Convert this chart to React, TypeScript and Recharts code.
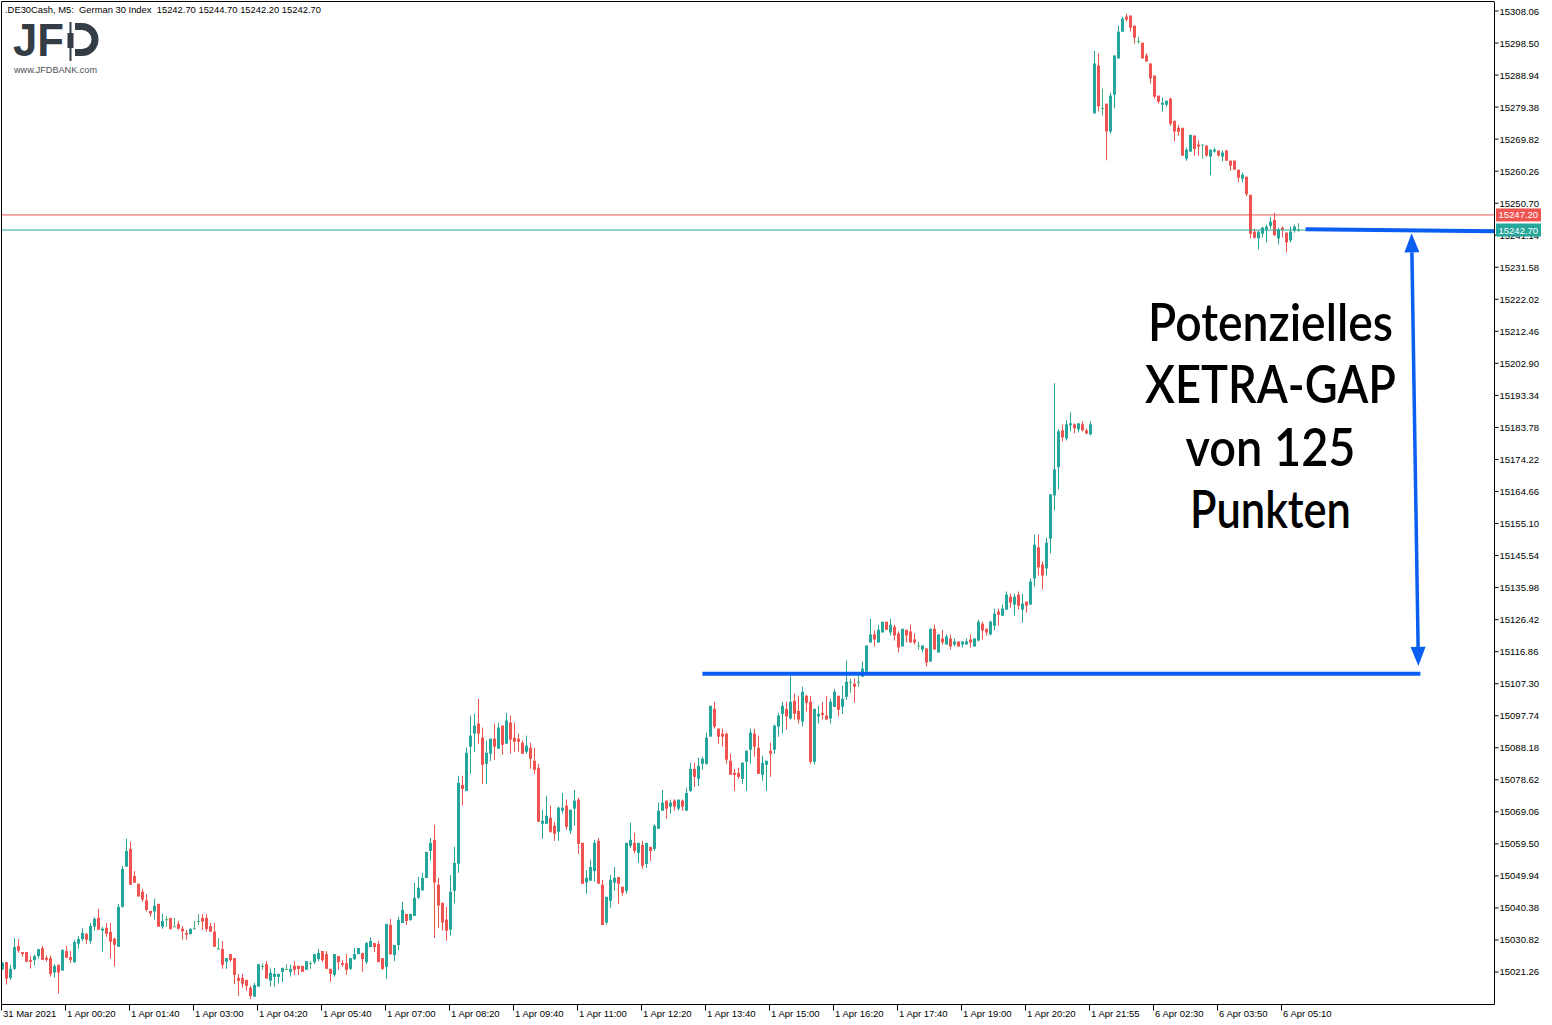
import React from 'react';
import { ComposedChart, Bar, XAxis, YAxis, ReferenceLine } from 'recharts';

// ---------- DATA (DE30Cash, M5) ----------
const OPEN = [
  15022.1, 15024.2, 15019.5, 15022.2, 15029.0, 15027.2, 15027.2, 15024.8, 15024.8, 15026.0,
  15028.4, 15025.5, 15025.4, 15021.1, 15023.4, 15021.7, 15027.5, 15025.7, 15024.2, 15029.7,
  15031.1, 15032.6, 15030.5, 15034.8, 15037.4, 15033.6, 15034.4, 15033.2, 15031.2, 15028.8,
  15040.7, 15052.7, 15058.0, 15049.9, 15047.6, 15045.2, 15042.6, 15039.5, 15039.3, 15041.6,
  15034.8, 15037.0, 15037.4, 15034.9, 15035.6, 15034.2, 15032.9, 15032.6, 15034.3, 15036.5,
  15037.4, 15037.4, 15034.9, 15033.3, 15028.3, 15028.1, 15024.3, 15026.6, 15025.4, 15019.5,
  15019.5, 15018.9, 15016.6, 15013.9, 15016.9, 15023.1, 15023.6, 15018.7, 15019.8, 15019.8,
  15021.3, 15022.2, 15021.3, 15023.1, 15023.1, 15023.1, 15021.9, 15023.9, 15024.2, 15025.1,
  15027.5, 15026.6, 15022.2, 15020.4, 15026.0, 15023.9, 15023.9, 15022.2, 15025.1, 15026.6,
  15026.9, 15024.2, 15028.7, 15029.9, 15029.6, 15025.4, 15022.8, 15035.3, 15026.3, 15029.3,
  15035.9, 15038.6, 15036.8, 15038.0, 15043.4, 15045.6, 15049.3, 15057.4, 15060.7, 15047.3,
  15041.9, 15036.9, 15033.9, 15045.5, 15053.6, 15077.1, 15075.3, 15088.5, 15092.4, 15095.4,
  15091.2, 15083.4, 15086.4, 15090.9, 15087.9, 15094.8, 15089.4, 15095.7, 15091.2, 15090.9,
  15089.7, 15087.0, 15088.2, 15084.3, 15082.2, 15065.5, 15065.5, 15067.3, 15064.9, 15063.1,
  15069.4, 15070.9, 15063.4, 15070.0, 15072.7, 15059.8, 15048.0, 15048.5, 15051.4, 15060.4,
  15047.3, 15036.0, 15042.5, 15047.9, 15049.6, 15046.7, 15045.5, 15058.9, 15059.8, 15056.8,
  15059.2, 15053.5, 15058.6, 15058.0, 15064.0, 15069.4, 15072.4, 15070.6, 15072.4, 15070.0,
  15072.4, 15069.4, 15075.3, 15081.9, 15078.9, 15083.4, 15083.4, 15091.5, 15099.8, 15093.9,
  15092.4, 15092.4, 15084.3, 15080.7, 15080.7, 15078.9, 15084.0, 15087.6, 15092.4, 15088.2,
  15080.1, 15083.1, 15087.3, 15087.6, 15094.5, 15098.3, 15099.8, 15096.9, 15102.2, 15099.2,
  15096.0, 15103.7, 15101.9, 15084.0, 15097.5, 15098.6, 15097.8, 15096.9, 15100.4, 15103.7,
  15100.4, 15103.4, 15107.9, 15107.3, 15107.9, 15109.4, 15110.9, 15119.6, 15122.0, 15119.6,
  15122.6, 15125.8, 15122.6, 15124.3, 15122.3, 15118.4, 15123.4, 15122.9, 15120.5, 15118.7,
  15117.5, 15117.8, 15113.9, 15123.7, 15116.6, 15120.8, 15119.0, 15120.8, 15119.0, 15119.9,
  15119.0, 15119.0, 15120.5, 15118.4, 15120.2, 15125.2, 15123.7, 15122.0, 15124.6, 15128.8,
  15127.6, 15129.4, 15133.3, 15130.9, 15133.9, 15129.4, 15131.8, 15130.9, 15138.7, 15148.0,
  15142.9, 15141.7, 15150.6, 15163.5, 15171.9, 15182.9, 15180.5, 15184.4, 15184.7, 15183.2,
  15184.7, 15182.9, 15181.7, 15277.5, 15291.8, 15279.1, 15280.4, 15272.1, 15283.1, 15293.9,
  15301.9, 15306.4, 15306.7, 15303.7, 15299.1, 15298.6, 15294.8, 15292.4, 15288.8, 15282.8,
  15280.1, 15280.1, 15281.9, 15275.3, 15273.2, 15273.2, 15264.0, 15266.1, 15270.9, 15268.2,
  15268.2, 15267.9, 15264.6, 15266.1, 15266.4, 15264.6, 15266.4, 15263.4, 15263.4, 15260.7,
  15258.0, 15258.6, 15253.2, 15242.2, 15240.2, 15241.6, 15242.8, 15243.9, 15245.7, 15240.2,
  15243.4, 15241.9, 15239.6, 15242.5, 15242.7,
];

const HIGH = [
  15024.3, 15024.3, 15023.4, 15031.4, 15031.1, 15027.2, 15027.2, 15026.0, 15026.4, 15028.1,
  15029.0, 15026.2, 15026.2, 15023.6, 15023.5, 15028.1, 15029.0, 15027.5, 15030.8, 15032.0,
  15034.4, 15032.9, 15035.9, 15037.6, 15040.1, 15034.7, 15035.9, 15035.9, 15031.5, 15041.6,
  15052.9, 15061.0, 15060.1, 15051.4, 15047.6, 15046.1, 15044.5, 15039.5, 15043.1, 15041.6,
  15038.6, 15038.0, 15037.4, 15037.4, 15036.5, 15035.0, 15033.8, 15034.4, 15036.5, 15038.6,
  15038.5, 15038.5, 15035.9, 15035.9, 15031.4, 15030.5, 15025.4, 15026.6, 15025.4, 15020.7,
  15020.7, 15018.9, 15017.2, 15018.0, 15023.6, 15023.9, 15024.5, 15022.3, 15022.5, 15020.7,
  15022.5, 15023.6, 15023.4, 15024.5, 15023.1, 15023.1, 15024.5, 15024.5, 15026.6, 15028.1,
  15027.5, 15027.5, 15022.2, 15026.6, 15026.0, 15024.8, 15026.6, 15025.4, 15028.4, 15028.4,
  15026.9, 15030.2, 15031.6, 15029.9, 15030.5, 15025.4, 15035.6, 15037.1, 15029.3, 15037.7,
  15042.2, 15038.6, 15038.6, 15047.9, 15049.6, 15050.8, 15057.1, 15061.3, 15065.2, 15049.4,
  15041.9, 15040.7, 15050.2, 15058.6, 15079.8, 15079.8, 15088.2, 15097.8, 15098.4, 15102.8,
  15094.2, 15090.3, 15090.9, 15095.4, 15095.7, 15094.8, 15098.6, 15097.8, 15095.7, 15092.4,
  15090.3, 15091.8, 15089.7, 15088.2, 15083.4, 15069.7, 15073.8, 15070.9, 15066.1, 15070.6,
  15074.7, 15072.7, 15069.7, 15075.6, 15073.3, 15059.8, 15051.7, 15054.7, 15060.7, 15061.3,
  15048.8, 15043.7, 15050.2, 15052.6, 15049.6, 15046.7, 15059.8, 15065.8, 15062.8, 15059.8,
  15060.4, 15059.8, 15058.6, 15065.3, 15071.8, 15075.6, 15072.4, 15072.7, 15072.8, 15072.7,
  15072.7, 15076.2, 15083.7, 15083.7, 15085.2, 15085.5, 15092.7, 15100.7, 15101.9, 15093.9,
  15093.9, 15092.7, 15086.4, 15081.9, 15082.2, 15083.9, 15087.3, 15093.9, 15093.9, 15091.8,
  15085.8, 15084.3, 15089.7, 15095.1, 15098.6, 15101.9, 15101.9, 15109.7, 15104.3, 15103.7,
  15106.4, 15104.0, 15103.7, 15099.8, 15100.7, 15101.9, 15103.7, 15102.8, 15105.8, 15103.7,
  15106.7, 15114.2, 15108.8, 15108.8, 15109.7, 15113.9, 15118.7, 15126.7, 15123.2, 15124.9,
  15125.8, 15125.8, 15126.7, 15124.9, 15122.9, 15123.7, 15123.4, 15124.9, 15122.3, 15119.9,
  15118.7, 15118.0, 15123.7, 15124.9, 15122.0, 15123.4, 15122.0, 15122.0, 15120.8, 15119.9,
  15119.9, 15120.8, 15122.0, 15120.8, 15126.4, 15125.8, 15123.7, 15126.1, 15129.7, 15129.7,
  15130.9, 15134.8, 15134.2, 15134.2, 15134.8, 15134.2, 15131.8, 15138.7, 15151.8, 15151.8,
  15143.8, 15150.9, 15163.8, 15197.0, 15183.2, 15184.7, 15185.9, 15188.3, 15185.0, 15185.0,
  15185.6, 15183.5, 15185.6, 15296.2, 15295.4, 15284.9, 15280.4, 15283.7, 15294.8, 15303.7,
  15306.4, 15307.3, 15306.7, 15303.7, 15300.4, 15298.6, 15295.4, 15292.4, 15288.8, 15282.8,
  15282.2, 15281.3, 15282.2, 15275.3, 15274.1, 15273.2, 15267.3, 15271.1, 15270.9, 15269.4,
  15268.2, 15267.9, 15266.7, 15267.3, 15266.4, 15266.4, 15266.7, 15263.4, 15263.4, 15260.7,
  15259.8, 15258.6, 15253.2, 15243.1, 15242.5, 15243.7, 15244.3, 15246.6, 15247.8, 15243.4,
  15243.7, 15242.0, 15243.7, 15244.3, 15244.7,
];

const LOW = [
  15021.9, 15017.5, 15018.9, 15021.9, 15027.0, 15025.8, 15024.3, 15022.3, 15023.2, 15025.2,
  15024.9, 15024.3, 15019.9, 15019.6, 15014.8, 15021.7, 15025.5, 15024.0, 15024.0, 15028.2,
  15030.5, 15029.7, 15029.7, 15033.6, 15033.9, 15027.3, 15031.8, 15025.2, 15022.9, 15028.8,
  15040.5, 15052.7, 15047.3, 15047.9, 15043.8, 15042.2, 15039.3, 15037.8, 15036.9, 15034.8,
  15034.2, 15034.8, 15033.9, 15034.8, 15033.9, 15030.9, 15030.9, 15032.4, 15034.0, 15035.3,
  15033.8, 15033.3, 15033.2, 15028.8, 15028.0, 15022.2, 15022.2, 15024.3, 15017.7, 15014.1,
  15016.6, 15015.7, 15013.2, 15013.9, 15016.9, 15022.0, 15019.3, 15016.9, 15016.9, 15017.8,
  15018.3, 15021.9, 15019.9, 15020.4, 15020.4, 15021.3, 15021.9, 15022.2, 15023.6, 15024.5,
  15024.2, 15022.2, 15018.3, 15019.9, 15021.9, 15022.8, 15020.4, 15021.9, 15024.8, 15026.6,
  15021.3, 15023.6, 15028.7, 15027.2, 15024.2, 15021.9, 15019.2, 15026.3, 15024.5, 15027.8,
  15035.9, 15035.3, 15036.5, 15038.0, 15043.1, 15045.6, 15049.3, 15054.5, 15031.4, 15034.4,
  15033.6, 15030.6, 15032.1, 15041.7, 15050.9, 15070.9, 15075.3, 15080.4, 15087.0, 15089.4,
  15077.4, 15077.4, 15084.2, 15084.6, 15087.9, 15086.1, 15089.4, 15086.4, 15087.0, 15087.0,
  15086.4, 15086.4, 15081.9, 15080.4, 15066.1, 15061.0, 15065.5, 15062.8, 15060.4, 15060.4,
  15068.5, 15063.7, 15062.5, 15064.9, 15056.5, 15047.6, 15044.6, 15048.5, 15048.2, 15047.6,
  15035.3, 15035.4, 15040.4, 15045.5, 15041.6, 15044.0, 15044.6, 15058.3, 15056.6, 15053.8,
  15052.0, 15052.3, 15054.4, 15057.4, 15064.0, 15069.4, 15067.0, 15068.5, 15069.4, 15069.4,
  15069.4, 15069.4, 15075.0, 15076.5, 15076.8, 15081.6, 15083.1, 15091.5, 15093.9, 15089.4,
  15088.5, 15083.4, 15080.1, 15075.3, 15078.9, 15077.4, 15075.3, 15083.4, 15085.5, 15080.4,
  15078.3, 15075.3, 15079.5, 15086.4, 15091.5, 15092.4, 15093.6, 15096.6, 15096.6, 15095.4,
  15094.5, 15099.0, 15083.4, 15083.1, 15095.4, 15096.6, 15096.6, 15095.4, 15100.4, 15097.5,
  15098.3, 15102.5, 15104.6, 15101.6, 15106.4, 15109.4, 15110.9, 15119.6, 15118.4, 15119.6,
  15122.6, 15123.4, 15121.7, 15120.2, 15116.6, 15118.4, 15119.6, 15119.6, 15119.0, 15117.5,
  15116.6, 15112.4, 15113.9, 15117.5, 15116.6, 15119.0, 15119.0, 15117.5, 15118.4, 15118.4,
  15118.1, 15119.0, 15118.1, 15118.4, 15119.9, 15120.5, 15121.7, 15121.7, 15123.2, 15124.6,
  15127.6, 15129.4, 15130.0, 15127.6, 15129.4, 15125.5, 15128.5, 15130.9, 15136.3, 15139.6,
  15135.4, 15139.6, 15146.2, 15159.0, 15165.3, 15179.6, 15179.9, 15182.6, 15182.0, 15182.3,
  15182.6, 15181.7, 15181.4, 15277.5, 15278.1, 15276.9, 15263.5, 15271.4, 15279.0, 15293.9,
  15301.9, 15304.9, 15301.9, 15298.3, 15298.3, 15293.9, 15293.0, 15286.4, 15281.9, 15280.4,
  15278.0, 15279.5, 15273.8, 15269.1, 15270.9, 15264.9, 15263.4, 15266.1, 15264.9, 15264.9,
  15264.0, 15264.6, 15259.0, 15265.8, 15264.6, 15263.2, 15263.4, 15260.4, 15260.7, 15257.0,
  15256.9, 15252.8, 15240.2, 15240.2, 15236.9, 15240.5, 15239.0, 15243.1, 15241.1, 15238.4,
  15240.5, 15236.0, 15239.0, 15241.9, 15242.2,
];

const CLOSE = [
  15024.0, 15019.3, 15022.2, 15028.7, 15027.6, 15026.6, 15024.3, 15024.3, 15026.0, 15028.1,
  15024.9, 15024.9, 15020.7, 15023.1, 15021.1, 15027.8, 15025.5, 15024.9, 15030.2, 15031.1,
  15032.9, 15030.9, 15035.0, 15037.1, 15033.9, 15034.2, 15032.7, 15030.3, 15029.4, 15040.7,
  15052.0, 15057.4, 15047.3, 15047.9, 15043.8, 15042.9, 15039.8, 15038.7, 15041.0, 15034.8,
  15036.5, 15037.0, 15034.1, 15034.9, 15034.2, 15033.4, 15032.4, 15034.1, 15034.3, 15036.5,
  15036.3, 15034.1, 15033.3, 15028.8, 15028.3, 15023.4, 15025.4, 15024.8, 15020.4, 15018.6,
  15017.8, 15017.1, 15014.1, 15017.4, 15023.6, 15023.1, 15019.3, 15021.0, 15020.7, 15020.7,
  15022.5, 15022.2, 15022.2, 15021.9, 15022.2, 15021.3, 15024.5, 15023.9, 15026.6, 15026.9,
  15024.8, 15022.2, 15020.7, 15026.6, 15024.2, 15023.4, 15021.9, 15025.4, 15026.6, 15028.4,
  15025.1, 15029.9, 15030.5, 15028.7, 15024.2, 15022.2, 15035.6, 15026.6, 15029.3, 15036.8,
  15039.8, 15036.5, 15038.6, 15043.4, 15046.4, 15049.3, 15057.1, 15059.8, 15048.0, 15041.1,
  15036.0, 15033.6, 15045.2, 15053.8, 15077.7, 15075.9, 15086.7, 15091.8, 15094.8, 15092.4,
  15083.1, 15086.7, 15090.9, 15088.5, 15094.2, 15089.1, 15096.3, 15090.6, 15090.0, 15090.0,
  15086.4, 15088.8, 15084.9, 15081.6, 15066.1, 15066.4, 15067.9, 15063.1, 15062.5, 15070.3,
  15070.3, 15064.6, 15069.7, 15072.4, 15059.5, 15047.6, 15049.4, 15052.6, 15059.8, 15047.6,
  15035.3, 15043.7, 15048.8, 15049.4, 15047.6, 15044.9, 15059.8, 15060.7, 15057.4, 15059.8,
  15053.0, 15059.8, 15057.4, 15064.9, 15069.4, 15071.8, 15070.0, 15071.8, 15070.6, 15072.7,
  15070.6, 15074.7, 15081.9, 15079.5, 15082.8, 15084.9, 15091.2, 15100.7, 15094.5, 15091.5,
  15091.5, 15084.6, 15080.1, 15080.1, 15079.5, 15083.7, 15087.3, 15092.7, 15088.5, 15080.4,
  15083.7, 15084.3, 15086.4, 15094.8, 15097.8, 15100.7, 15097.5, 15101.9, 15098.3, 15096.6,
  15104.9, 15101.6, 15084.0, 15099.8, 15098.3, 15098.0, 15096.6, 15101.9, 15104.9, 15099.5,
  15102.8, 15107.9, 15107.9, 15106.4, 15107.9, 15111.8, 15118.7, 15122.0, 15120.5, 15123.4,
  15125.8, 15123.4, 15124.9, 15121.7, 15118.1, 15123.7, 15121.7, 15119.6, 15119.6, 15118.7,
  15118.7, 15113.6, 15123.7, 15117.5, 15122.0, 15119.6, 15121.4, 15118.4, 15119.9, 15118.4,
  15119.9, 15119.9, 15119.6, 15120.8, 15125.8, 15123.2, 15122.6, 15125.8, 15128.2, 15127.9,
  15129.7, 15133.9, 15131.5, 15133.3, 15130.6, 15131.2, 15130.6, 15137.8, 15148.8, 15142.0,
  15139.6, 15149.4, 15163.8, 15171.3, 15182.6, 15180.8, 15184.7, 15185.0, 15183.5, 15185.0,
  15182.9, 15182.0, 15184.7, 15292.4, 15279.6, 15279.1, 15272.1, 15282.8, 15294.8, 15301.9,
  15305.8, 15305.5, 15303.1, 15300.1, 15299.1, 15293.9, 15293.0, 15287.9, 15282.5, 15281.0,
  15280.7, 15281.3, 15274.4, 15272.1, 15272.0, 15264.9, 15266.7, 15271.1, 15266.9, 15267.6,
  15268.2, 15264.9, 15266.7, 15266.7, 15264.9, 15265.8, 15263.4, 15261.9, 15260.7, 15258.3,
  15259.2, 15253.4, 15241.6, 15240.4, 15242.2, 15243.4, 15243.7, 15245.2, 15241.1, 15242.8,
  15242.8, 15239.0, 15242.2, 15243.7, 15242.7,
];

const TIME_TICK_INDEX = [0, 16, 32, 48, 64, 80, 96, 112, 128, 144, 160, 176, 192, 208, 224, 240, 256, 272, 288, 304, 320];
const TIME_TICK_LABELS = [
  '31 Mar 2021', '1 Apr 00:20', '1 Apr 01:40', '1 Apr 03:00', '1 Apr 04:20', '1 Apr 05:40',
  '1 Apr 07:00', '1 Apr 08:20', '1 Apr 09:40', '1 Apr 11:00', '1 Apr 12:20', '1 Apr 13:40',
  '1 Apr 15:00', '1 Apr 16:20', '1 Apr 17:40', '1 Apr 19:00', '1 Apr 20:20', '1 Apr 21:55',
  '6 Apr 02:30', '6 Apr 03:50', '6 Apr 05:10',
];
const PRICE_TICKS = [
  15021.26, 15030.82, 15040.38, 15049.94, 15059.5, 15069.06, 15078.62, 15088.18, 15097.74, 15107.3,
  15116.86, 15126.42, 15135.98, 15145.54, 15155.1, 15164.66, 15174.22, 15183.78, 15193.34, 15202.9,
  15212.46, 15222.02, 15231.58, 15241.14, 15250.7, 15260.26, 15269.82, 15279.38, 15288.94, 15298.5,
  15308.06,
];

const BID = 15242.7;
const ASK = 15247.2;
const TAG_VALUES = [ASK, BID];
const GAP_BOTTOM = 15110.3;
const GAP_LINE = [174.8, 354.3];
const BID_LINE = [{ x: 325.6, y: 15242.93 }, { x: 372.8, y: 15242.33 }];
const ARROW = [{ x: 352.1, y: 15241.7 }, { x: 353.8, y: 15112.6 }];
const HEADER = '.DE30Cash, M5:  German 30 Index  15242.70 15244.70 15242.20 15242.70';
const NOTE_LINES = ['Potenzielles', 'XETRA-GAP', 'von 125', 'Punkten'];

// ---------- STYLE ----------
const UP = '#26a69a';
const DOWN = '#ef5350';
const DOJI = '#4cb07a';
const BLUE = '#0a5ef2';
const TICK_FONT = "'Liberation Sans', Arial, sans-serif";
const DOMAIN_Y: [number, number] = [15011.56, 15310.75];

const data = OPEN.map((o, i) => ({
  i,
  o,
  h: HIGH[i],
  l: LOW[i],
  c: CLOSE[i],
  range: [LOW[i], HIGH[i]],
}));

const renderCandle = (props: any) => {
  const { x, y, width, height, payload } = props;
  if (x == null || y == null) return <g />;
  const { o, h, l, c } = payload;
  const span = h - l;
  const py = (v: number) => (span > 0 ? y + ((h - v) / span) * height : y);
  const color = c > o ? UP : c < o ? DOWN : DOJI;
  const cx = x + width / 2;
  const left = Math.round(cx - 1.5);
  const wx = left + 1.5;
  const top = Math.min(py(o), py(c));
  const bot = Math.max(py(o), py(c));
  return (
    <g>
      <line x1={wx} x2={wx} y1={y} y2={y + height} stroke={color} strokeWidth={1} />
      <rect x={left} y={top} width={3} height={Math.max(1, bot - top)} fill={color} />
    </g>
  );
};

const TimeTick = (props: any) => {
  const { x, y, payload } = props;
  const idx = TIME_TICK_INDEX.indexOf(payload.value);
  const label = idx >= 0 ? TIME_TICK_LABELS[idx] : '';
  const tx = Math.round(x - 2) + 0.5;
  return (
    <g>
      <line x1={tx} x2={tx} y1={y} y2={y + 6} stroke="#000" strokeWidth={1} />
      <text x={tx + 1.5} y={y + 12.5} fontSize={9.5} fontFamily={TICK_FONT} fill="#000" textAnchor="start">
        {label}
      </text>
    </g>
  );
};

const PriceTick = (props: any) => {
  const { x, y, payload } = props;
  return (
    <g>
      <line x1={x} x2={x + 4} y1={y} y2={y} stroke="#000" strokeWidth={1} />
      <text x={x + 5} y={y + 3.5} fontSize={9.5} fontFamily={TICK_FONT} fill="#000" textAnchor="start">
        {Number(payload.value).toFixed(2)}
      </text>
    </g>
  );
};

// price tags drawn by a second (1px wide) right axis, so they sit above the price labels
const TagTick = (props: any) => {
  const { x, y, payload } = props;
  const v = Number(payload.value);
  const color = v === ASK ? DOWN : UP;
  const left = x > 1520 ? x - 55 : x + 1.5;
  return (
    <g>
      <rect x={left} y={y - 6.5} width={45} height={13} fill={color} />
      <text x={left + 2.5} y={y + 3.5} fontSize={9.5} fontFamily={TICK_FONT} fill="#fff" textAnchor="start">
        {v.toFixed(2)}
      </text>
    </g>
  );
};

const ArrowShape = (p: any) => {
  const { x1, y1, x2, y2 } = p;
  if ([x1, y1, x2, y2].some((v) => v == null || isNaN(v))) return <g />;
  const dx = x2 - x1;
  const dy = y2 - y1;
  const len = Math.hypot(dx, dy) || 1;
  const ux = dx / len;
  const uy = dy / len;
  const nx = -uy;
  const ny = ux;
  const L = 19;
  const W = 7.5;
  const ax = x1 + ux * L;
  const ay = y1 + uy * L;
  const bx = x2 - ux * L;
  const by = y2 - uy * L;
  return (
    <g>
      <line x1={ax} y1={ay} x2={bx} y2={by} stroke={BLUE} strokeWidth={3.5} />
      <polygon points={`${x1},${y1} ${ax + nx * W},${ay + ny * W} ${ax - nx * W},${ay - ny * W}`} fill={BLUE} />
      <polygon points={`${x2},${y2} ${bx + nx * W},${by + ny * W} ${bx - nx * W},${by - ny * W}`} fill={BLUE} />
    </g>
  );
};

const BlueLine = (p: any) => (
  <line x1={p.x1} y1={p.y1} x2={p.x2} y2={p.y2} stroke={BLUE} strokeWidth={4} />
);

export default function App() {
  return (
    <div style={{ position: 'fixed', left: 0, top: 0, width: 1552, height: 1025, background: '#fff', overflow: 'hidden' }}>
      <ComposedChart width={1552} height={1025} data={data} margin={{ top: 2, right: 0, bottom: 0, left: 2 }}>
        <XAxis
          dataKey="i"
          type="number"
          domain={[-0.3, 372.825]}
          ticks={TIME_TICK_INDEX}
          interval={0}
          height={20.5}
          tickSize={0}
          tickMargin={0}
          tickLine={false}
          axisLine={{ stroke: '#000', strokeWidth: 1 }}
          tick={TimeTick}
          allowDataOverflow
        />
        <YAxis
          yAxisId="price"
          orientation="right"
          type="number"
          domain={DOMAIN_Y}
          ticks={PRICE_TICKS}
          interval={0}
          width={56.5}
          tickSize={0}
          tickMargin={0}
          tickLine={false}
          axisLine={{ stroke: '#000', strokeWidth: 1 }}
          tick={PriceTick}
          allowDataOverflow
        />
        <YAxis
          yAxisId="tags"
          orientation="right"
          type="number"
          domain={DOMAIN_Y}
          ticks={TAG_VALUES}
          interval={0}
          width={1}
          tickSize={0}
          tickMargin={0}
          tickLine={false}
          axisLine={false}
          tick={TagTick}
          allowDataOverflow
        />
        <Bar yAxisId="price" dataKey="range" barSize={3} shape={renderCandle} isAnimationActive={false} />
        <ReferenceLine yAxisId="tags" y={ASK} stroke={DOWN} strokeWidth={1} />
        <ReferenceLine yAxisId="tags" y={BID} stroke={UP} strokeWidth={1} />
        <ReferenceLine
          yAxisId="price"
          segment={[{ x: GAP_LINE[0], y: GAP_BOTTOM }, { x: GAP_LINE[1], y: GAP_BOTTOM }]}
          shape={BlueLine}
        />
        <ReferenceLine yAxisId="price" segment={BID_LINE} shape={BlueLine} />
        <ReferenceLine yAxisId="price" segment={ARROW} shape={ArrowShape} />
      </ComposedChart>

      <svg
        width={1552}
        height={1025}
        style={{ position: 'absolute', left: 0, top: 0, pointerEvents: 'none' }}
      >
        <line x1={1.5} y1={1.5} x2={1.5} y2={1004.5} stroke="#000" strokeWidth={1} />
        <line x1={1.5} y1={1.5} x2={1494.5} y2={1.5} stroke="#000" strokeWidth={1} />
        <text
          x={5}
          y={13}
          fontSize={9.5}
          fontFamily={TICK_FONT}
          fill="#000"
          textLength={316}
          lengthAdjust="spacingAndGlyphs"
          style={{ whiteSpace: 'pre' }}
        >
          {HEADER}
        </text>
        {/* JFD logo */}
        <text x={13} y={56} fontSize={46} fontWeight={700} fontFamily={TICK_FONT} fill="#343c45" textLength={51} lengthAdjust="spacingAndGlyphs">
          JF
        </text>
        <line x1={70.5} y1={22} x2={70.5} y2={61} stroke="#343c45" strokeWidth={2} />
        <rect x={67.5} y={33} width={6} height={15} fill="#343c45" />
        <path d="M 75 26.5 H 82 A 13 13 0 0 1 82 52.5 H 75" stroke="#343c45" strokeWidth={7} fill="none" />
        <text x={14} y={73} fontSize={8.5} fontFamily={TICK_FONT} fill="#4a4f55" textLength={83} lengthAdjust="spacingAndGlyphs">
          www.JFDBANK.com
        </text>
        {/* annotation */}
        {NOTE_LINES.map((t, k) => (
          <text
            key={t}
            x={1270.5}
            y={[341, 403, 466, 528][k]}
            textAnchor="middle"
            fontSize={52}
            fontWeight={600}
            fontFamily="Lato, 'Noto Sans', sans-serif"
            fill="#000"
            textLength={[245, 251, 170, 161][k]}
            lengthAdjust="spacingAndGlyphs"
          >
            {t}
          </text>
        ))}
      </svg>
    </div>
  );
}
